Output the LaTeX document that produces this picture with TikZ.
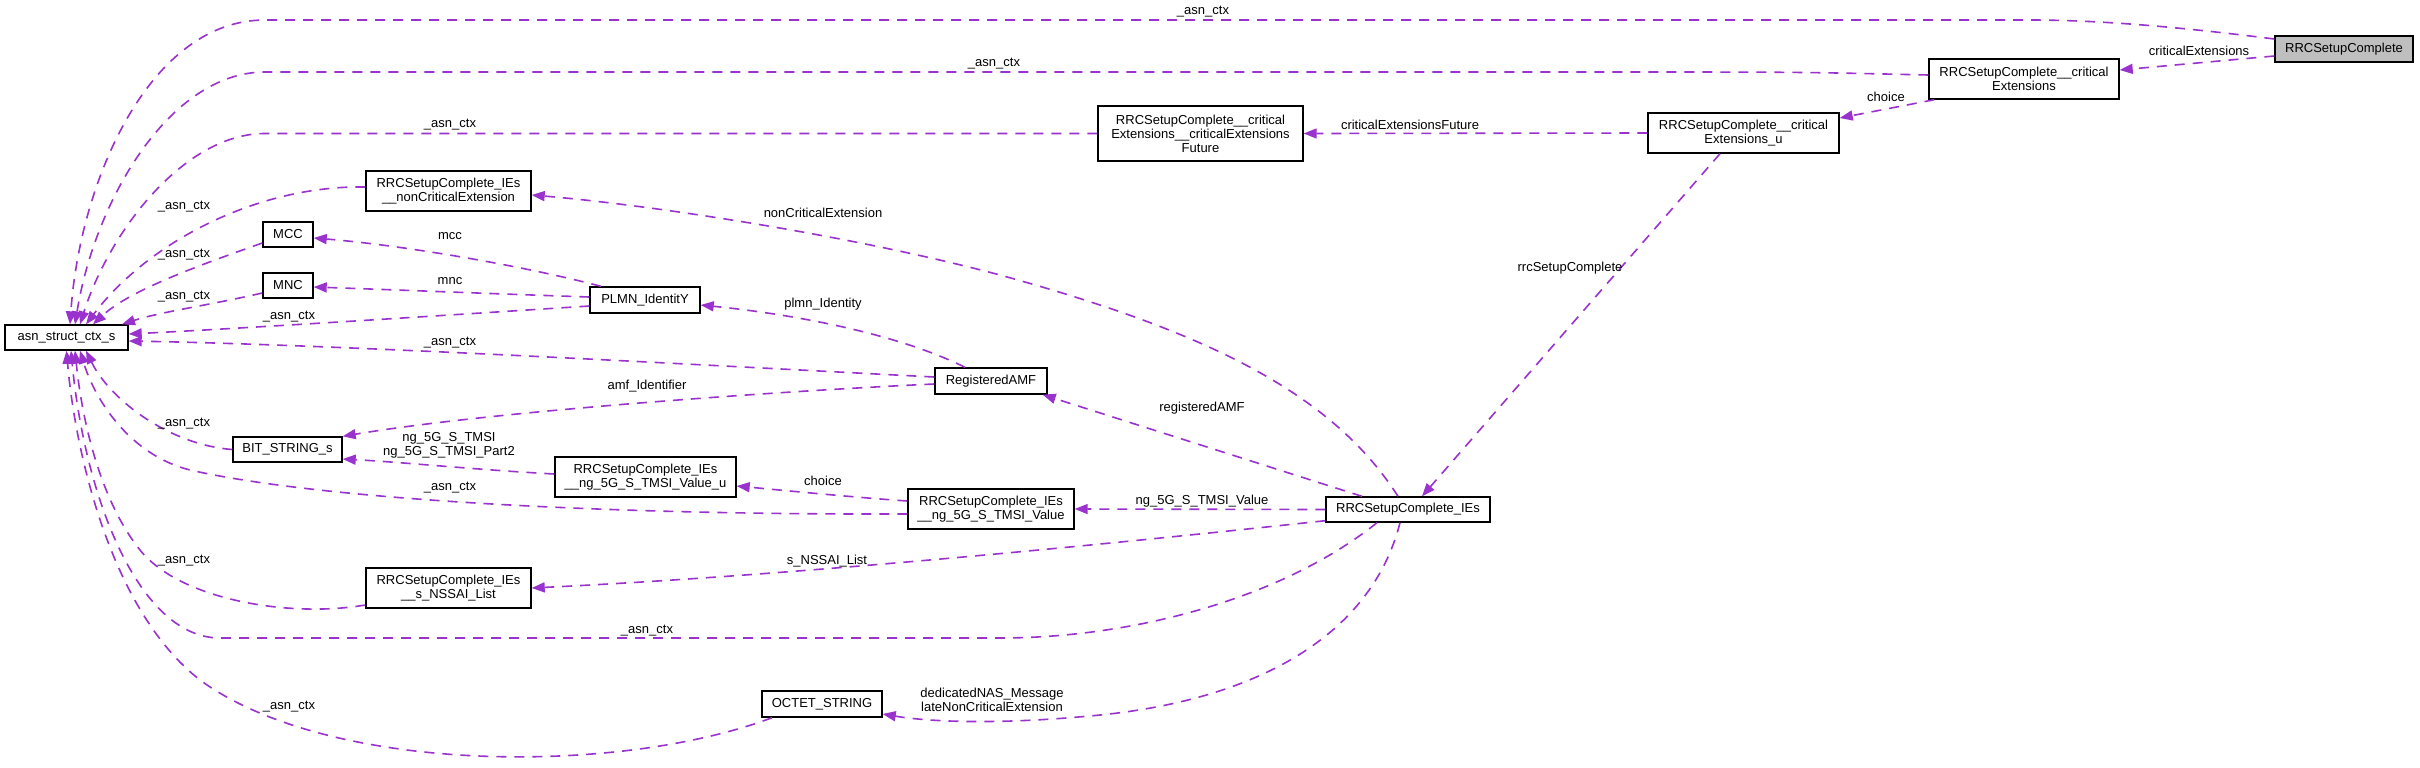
\documentclass[tikz,border=0pt]{standalone}
\usepackage{fontspec}
\setmainfont{Liberation Sans}
\usetikzlibrary{arrows.meta}
\definecolor{edgec}{HTML}{9A32CD}
\definecolor{mainfill}{HTML}{BFBFBF}
\newcommand\dfs{\fontsize{6.5pt}{7pt}\selectfont}
\tikzset{
  box/.style={draw=black, line width=0.7pt, fill=white, inner sep=0pt, align=center, font=\dfs},
  edge/.style={draw=edgec, line width=0.8pt, dash pattern=on 5pt off 4pt, -{Triangle[length=6.5pt,width=5pt]}},
  lbl/.style={inner sep=0pt, align=center, font=\dfs},
}
\begin{document}
\begin{tikzpicture}[x=0.5pt,y=-0.5pt]
\useasboundingbox (0,0) rectangle (2420,767);
\fill[white] (0,0) rectangle (2420,767);
% nodes
\node[box, fill=mainfill, minimum width=69pt, minimum height=13pt] (rsc) at (2344,49) {RRCSetupComplete};
\node[box, minimum width=95pt, minimum height=20pt] (ce) at (2024,79) {RRCSetupComplete\_\_critical\\Extensions};
\node[box, minimum width=95.5pt, minimum height=20pt] (ceu) at (1743.5,133) {RRCSetupComplete\_\_critical\\Extensions\_u};
\node[box, minimum width=102.5pt, minimum height=27.5pt] (cef) at (1200.5,133.5) {RRCSetupComplete\_\_critical\\Extensions\_\_criticalExtensions\\Future};
\node[box, minimum width=82.5pt, minimum height=20pt] (nc) at (448.5,191) {RRCSetupComplete\_IEs\\\_\_nonCriticalExtension};
\node[box, minimum width=25pt, minimum height=12.5pt] (mcc) at (288,234.5) {MCC};
\node[box, minimum width=25pt, minimum height=12.5pt] (mnc) at (288,285.5) {MNC};
\node[box, minimum width=55pt, minimum height=13pt] (plmn) at (645,300) {PLMN\_IdentitY};
\node[box, minimum width=61.5pt, minimum height=12.5pt] (asn) at (66.5,337.5) {asn\_struct\_ctx\_s};
\node[box, minimum width=56pt, minimum height=13pt] (amf) at (991,381) {RegisteredAMF};
\node[box, minimum width=54.5pt, minimum height=12.5pt] (bs) at (287.5,449.5) {BIT\_STRING\_s};
\node[box, minimum width=90.5pt, minimum height=20pt] (tvu) at (645.5,477) {RRCSetupComplete\_IEs\\\_\_ng\_5G\_S\_TMSI\_Value\_u};
\node[box, minimum width=82.5pt, minimum height=20pt] (ns) at (448.5,588) {RRCSetupComplete\_IEs\\\_\_s\_NSSAI\_List};
\node[box, minimum width=60pt, minimum height=13pt] (oct) at (822,704) {OCTET\_STRING};
\node[box, minimum width=83pt, minimum height=20pt] (tv) at (991,509) {RRCSetupComplete\_IEs\\\_\_ng\_5G\_S\_TMSI\_Value};
\node[box, minimum width=82pt, minimum height=12.5pt] (ies) at (1408,509.5) {RRCSetupComplete\_IEs};
% edges to asn_struct_ctx_s
\draw[edge] ([yshift=5pt]rsc.west) .. controls (2180,27) and (2100,20) .. (2030,20) -- (265,20) .. controls (150,20) and (80,180) .. ([xshift=1.75pt]asn.north);
\draw[edge] ([yshift=2pt]ce.west) .. controls (1800,72) .. (1600,72) -- (265,72) .. controls (170,72) and (95,200) .. ([xshift=4.25pt]asn.north);
\draw[edge] (cef.west) -- (265,133.5) .. controls (185,133.5) and (110,230) .. ([xshift=6.75pt]asn.north);
\draw[edge] ([yshift=2pt]nc.west) .. controls (260,185) and (150,240) .. ([xshift=9.75pt]asn.north);
\draw[edge] ([yshift=-4.25pt]mcc.west) .. controls (200,265) and (130,290) .. ([xshift=13.25pt]asn.north);
\draw[edge] ([yshift=-3.75pt]mnc.west) .. controls (210,305) and (160,312) .. ([xshift=27.75pt]asn.north);
\draw[edge] ([yshift=-3pt]plmn.west) .. controls (450,315) and (250,328) .. ([yshift=1.75pt]asn.east);
\draw[edge] ([yshift=2pt]amf.west) .. controls (700,365) and (350,345) .. ([yshift=-1.75pt]asn.east);
\draw[edge] (bs.west) .. controls (170,445) and (110,400) .. ([xshift=9.75pt]asn.south);
\draw[edge] ([yshift=-2.5pt]tv.west) .. controls (550,515) and (300,495) .. (190,470) .. controls (130,455) and (95,400) .. ([xshift=6.75pt]asn.south);
\draw[edge] ([yshift=-8.5pt]ns.west) .. controls (290,618) and (180,600) .. (140,550) .. controls (100,500) and (82,420) .. ([xshift=4.25pt]asn.south);
\draw[edge] ([xshift=-15.5pt]ies.south) .. controls (1280,600) and (1130,638) .. (1000,638) -- (220,638) .. controls (140,638) and (85,500) .. ([xshift=2.25pt]asn.south);
\draw[edge] ([xshift=-25pt]oct.south) .. controls (620,775) and (330,775) .. (200,680) .. controls (110,610) and (75,450) .. (asn.south);
% other edges
\draw[edge] ([yshift=-3.5pt]rsc.west) -- ([yshift=4.5pt]ce.east);
\draw[edge] ([xshift=3pt]ce.south west) -- ([yshift=7.5pt]ceu.east);
\draw[edge] (ceu.west) -- (cef.east);
\draw[edge] ([xshift=-11.75pt]ceu.south) -- ([xshift=7pt]ies.north);
\draw[edge] ([xshift=-5pt]ies.north) .. controls (1330,390) and (1200,330) .. (1000,275) .. controls (850,235) and (650,205) .. ([yshift=-2pt]nc.east);
\draw[edge] ([xshift=-22pt]plmn.north) .. controls (520,265) and (400,245) .. ([yshift=-1.75pt]mcc.east);
\draw[edge] ([yshift=1.5pt]plmn.west) .. controls (500,294) and (400,290) .. ([yshift=-0.75pt]mnc.east);
\draw[edge] ([xshift=-13pt]amf.north) .. controls (900,335) and (800,315) .. ([yshift=-2.5pt]plmn.east);
\draw[edge] ([yshift=-1.5pt]amf.west) .. controls (800,390) and (500,410) .. (bs.north east);
\draw[edge] ([xshift=-23pt]ies.north) -- ([xshift=-2.5pt]amf.south east);
\draw[edge] ([yshift=1.5pt]tvu.west) .. controls (480,470) and (400,462) .. ([yshift=-4.75pt]bs.east);
\draw[edge] ([yshift=4pt]tv.west) .. controls (850,497) and (780,490) .. ([yshift=-4.5pt]tvu.east);
\draw[edge] (ies.west) -- (tv.east);
\draw[edge] ([yshift=1pt]ies.south west) .. controls (1100,545) and (800,575) .. (ns.east);
\draw[edge] ([xshift=-4pt]ies.south) .. controls (1370,640) and (1250,700) .. (1100,715) .. controls (1000,725) and (930,722) .. ([yshift=-5pt]oct.east);
% labels
\node[lbl] (l1) at (1203,12) {\_asn\_ctx};
\node[lbl] (l2) at (994,64) {\_asn\_ctx};
\node[lbl] (l3) at (450,125) {\_asn\_ctx};
\node[lbl] (l4) at (184,207) {\_asn\_ctx};
\node[lbl] (l5) at (184,255) {\_asn\_ctx};
\node[lbl] (l6) at (184,297) {\_asn\_ctx};
\node[lbl] (l7) at (289,317) {\_asn\_ctx};
\node[lbl] (l8) at (450,343) {\_asn\_ctx};
\node[lbl] (l9) at (184,424) {\_asn\_ctx};
\node[lbl] (l10) at (450,488) {\_asn\_ctx};
\node[lbl] (l11) at (184,561) {\_asn\_ctx};
\node[lbl] (l12) at (647,631) {\_asn\_ctx};
\node[lbl] (l13) at (289,707) {\_asn\_ctx};
\node[lbl] (l14) at (2199,51) {criticalExtensions};
\node[lbl] (l15) at (1886,97) {choice};
\node[lbl] (l16) at (1410,125) {criticalExtensionsFuture};
\node[lbl] (l17) at (1570,268) {rrcSetupComplete};
\node[lbl] (l18) at (823,213) {nonCriticalExtension};
\node[lbl] (l19) at (450,236) {mcc};
\node[lbl] (l20) at (450,281) {mnc};
\node[lbl] (l21) at (823,304) {plmn\_Identity};
\node[lbl] (l22) at (647,386) {amf\_Identifier};
\node[lbl] (l23) at (1202,408) {registeredAMF};
\node[lbl] (l24) at (449,445) {ng\_5G\_S\_TMSI\\ng\_5G\_S\_TMSI\_Part2};
\node[lbl] (l25) at (823,481) {choice};
\node[lbl] (l26) at (1202,501) {ng\_5G\_S\_TMSI\_Value};
\node[lbl] (l27) at (827,561) {s\_NSSAI\_List};
\node[lbl] (l28) at (992,700) {dedicatedNAS\_Message\\lateNonCriticalExtension};
\end{tikzpicture}
\end{document}
